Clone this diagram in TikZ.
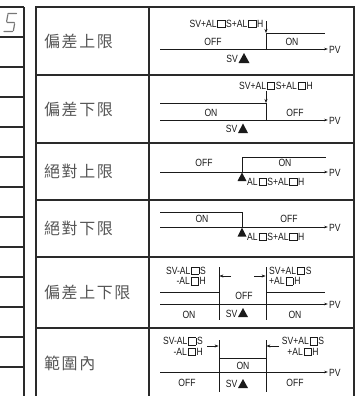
\documentclass[tikz,border=0pt]{standalone}
\usepackage{fontspec}
\setmainfont{Liberation Sans}
\newfontfamily\cjk[LetterSpace=10]{Noto Sans CJK TC}
\newfontfamily\cond[FakeStretch=0.82]{Liberation Sans}
\usetikzlibrary{arrows.meta}
\newcommand\sqbx{\kern0.9pt{\setlength\fboxsep{0pt}\setlength\fboxrule{0.65pt}\fbox{\rule{0pt}{6.6pt}\hspace{6.6pt}}}\kern0.9pt}
\definecolor{ink}{HTML}{1A1A1A}
\definecolor{frm}{HTML}{2A2A2A}
\definecolor{cjkgray}{HTML}{555555}
\tikzset{
  frame/.style={line width=1.8bp, draw=frm},
  rowline/.style={line width=1.5bp, draw=frm},
  sig/.style={line width=0.8bp, draw=ink},
  axis/.style={sig, -{Stealth[length=4bp,width=2.6bp]}},
  ptr/.style={sig, -{Stealth[length=4bp,width=3bp]}},
  lab/.style={inner sep=0pt, text=ink, font=\cond\fontsize{10.5}{10.5}\selectfont},
  rowname/.style={inner sep=0pt, anchor=west, text=cjkgray, font=\cjk\fontsize{16}{17}\selectfont},
  tri/.style={fill=ink},
}
\begin{document}
\begin{tikzpicture}[x=1bp,y=-1bp]
\useasboundingbox (0,0) rectangle (358,396);
% ---- left strip
\draw[rowline] (0,7) -- (24,7);
\draw[rowline] (24,7) -- (24,396);
\foreach \yy in {37,67,...,367} \draw[rowline] (0,\yy) -- (24,\yy);
\draw[line width=1.2bp, draw=cjkgray!80, line cap=round]
  (8,13.5) -- (16.5,13.5)
  (7.8,14.8) -- (6.6,21.5)
  (7.2,22.5) -- (14.2,22.5)
  (14.6,23.8) -- (13.4,30.5)
  (12.6,31.5) -- (4,31.5);
% ---- main table
\draw[frame] (36,400) -- (36,7) -- (354,7) -- (354,400);
\draw[rowline] (149,7) -- (149,400);
\foreach \yy in {75,143,200,257,328} \draw[rowline] (36,\yy) -- (354,\yy);
% ---- row names
\node[rowname] (n1) at (44,41) {偏差上限};
\node[rowname] (n2) at (44,109) {偏差下限};
\node[rowname] (n3) at (44,171.5) {絕對上限};
\node[rowname] (n4) at (44,228.5) {絕對下限};
\node[rowname] (n5) at (44,292.5) {偏差上下限};
\node[rowname] (n6) at (44,363) {範圍內};
% ---- diagram 1
\coordinate (a1s) at (160,49); \coordinate (a1e) at (328,49);
\draw[axis] (a1s) -- (a1e);
\node[lab, anchor=west] (pv1) at (329,50) {PV};
\draw[sig] (266,49) -- (266,33) -- (325,33);
\draw[ptr] (266,21) -- (266,33);
\node[lab, anchor=east] (l1) at (263.5,24) {SV+AL\sqbx S+AL\sqbx H};
\node[lab] (off1) at (213,42) {OFF};
\node[lab] (on1) at (292,42) {ON};
\fill[tri] (244,53) -- (238.5,63) -- (249.5,63) -- cycle;
\node[lab, anchor=east] (sv1) at (238,58.5) {SV};
% ---- diagram 2
\draw[axis] (160,120) -- (328,120);
\node[lab, anchor=west] (pv2) at (329,121) {PV};
\draw[sig] (160,103) -- (266,103) -- (266,120);
\draw[ptr] (266,91) -- (266,103);
\node[lab] (l2) at (276,86) {SV+AL\sqbx S+AL\sqbx H};
\node[lab] (on2) at (211,113) {ON};
\node[lab] (off2) at (295,113) {OFF};
\fill[tri] (243,123.5) -- (238,133) -- (248,133) -- cycle;
\node[lab, anchor=east] (sv2) at (237.5,129) {SV};
% ---- diagram 3
\draw[axis] (160,172) -- (328,172);
\node[lab, anchor=west] (pv3) at (329,173) {PV};
\draw[sig] (242,172) -- (242,157) -- (326,157);
\node[lab] (off3) at (204,163) {OFF};
\node[lab] (on3) at (285,163) {ON};
\fill[tri] (242,172.5) -- (237.5,181) -- (246.5,181) -- cycle;
\node[lab, anchor=west] (l3) at (247,182) {AL\sqbx S+AL\sqbx H};
% ---- diagram 4
\draw[axis] (160,227) -- (328,227);
\node[lab, anchor=west] (pv4) at (329,228) {PV};
\draw[sig] (160,212) -- (242,212) -- (242,227);
\node[lab] (on4) at (202,219) {ON};
\node[lab] (off4) at (289,219) {OFF};
\fill[tri] (242,227.5) -- (237.5,236.5) -- (246.5,236.5) -- cycle;
\node[lab, anchor=west] (l4) at (247,237) {AL\sqbx S+AL\sqbx H};
% ---- diagram 5
\draw[axis] (160,304) -- (328,304);
\node[lab, anchor=west] (pv5) at (329,305) {PV};
\draw[sig] (160,292) -- (219,292);
\draw[sig] (219,267) -- (219,320);
\draw[sig] (266,267) -- (266,320);
\draw[sig] (266,292) -- (325,292);
\draw[ptr] (231,276) -- (219.4,276);
\draw[ptr] (254,276) -- (265.6,276);
\node[lab, anchor=east, align=right] (l5a) at (206,276) {SV-AL\sqbx S\\-AL\sqbx H};
\node[lab, anchor=west, align=left] (l5b) at (269,276) {SV+AL\sqbx S\\+AL\sqbx H};
\node[lab] (off5) at (244,296) {OFF};
\node[lab] (on5a) at (189,315) {ON};
\node[lab] (on5b) at (295,315) {ON};
\fill[tri] (243,308) -- (238,317) -- (248,317) -- cycle;
\node[lab, anchor=east] (sv5) at (237.5,314) {SV};
% ---- diagram 6
\draw[axis] (160,372) -- (328,372);
\node[lab, anchor=west] (pv6) at (329,373) {PV};
\draw[sig] (219,340) -- (219,392);
\draw[sig] (266,340) -- (266,392);
\draw[sig] (219,358) -- (266,358);
\draw[ptr] (207,346) -- (218.6,346);
\draw[ptr] (279,346) -- (266.4,346);
\node[lab, anchor=east, align=right] (l6a) at (203,346.5) {SV-AL\sqbx S\\-AL\sqbx H};
\node[lab, align=center] (l6b) at (303,346.5) {SV+AL\sqbx S\\+AL\sqbx H};
\node[lab] (on6) at (243,366) {ON};
\node[lab] (off6a) at (187,383) {OFF};
\node[lab] (off6b) at (295,383) {OFF};
\fill[tri] (243,379) -- (238,388) -- (248,388) -- cycle;
\node[lab, anchor=east] (sv6) at (237.5,383.5) {SV};
\end{tikzpicture}
\end{document}
